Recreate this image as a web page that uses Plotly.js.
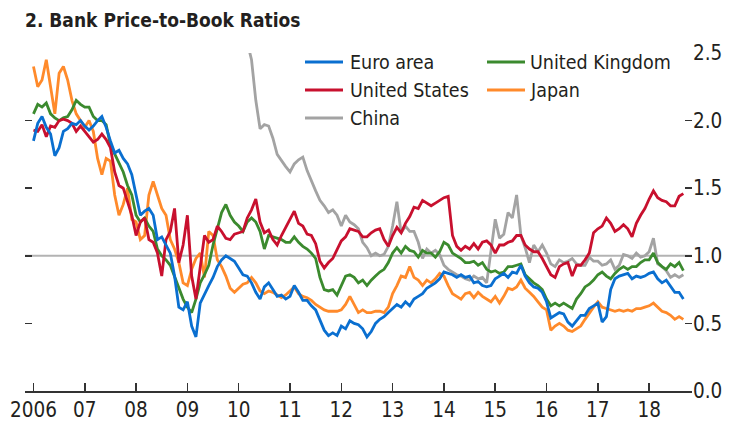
<!DOCTYPE html>
<html>
<head>
<meta charset="utf-8">
<script src="https://cdn.plot.ly/plotly-3.0.1.min.js"></script>
<style>
html,body{margin:0;padding:0;background:#fff;}
#chart{width:729px;height:435px;}
</style>
</head>
<body>
<div id="chart"></div>
<script>
// Monthly observations, starting January 2006
const START_YEAR = 2006;
const CHINA_START_MONTH = 49; // China series begins February 2010

const euroArea = [
  1.85,1.98,2.03,1.95,1.90,1.74,1.80,1.92,1.94,1.98,
  1.97,2.00,1.96,1.93,1.96,2.00,2.03,1.95,1.85,1.76,
  1.78,1.72,1.68,1.60,1.45,1.30,1.33,1.35,1.30,1.12,
  1.14,1.08,1.02,0.85,0.62,0.60,0.66,0.48,0.40,0.65,
  0.72,0.78,0.84,0.92,0.97,1.00,0.98,0.96,0.91,0.86,
  0.85,0.80,0.73,0.68,0.77,0.80,0.75,0.70,0.71,0.68,
  0.70,0.78,0.73,0.67,0.67,0.63,0.60,0.53,0.45,0.41,
  0.43,0.41,0.48,0.46,0.52,0.50,0.49,0.46,0.40,0.44,
  0.50,0.53,0.55,0.58,0.61,0.64,0.62,0.66,0.63,0.68,
  0.70,0.72,0.76,0.78,0.80,0.83,0.88,0.87,0.86,0.84,
  0.86,0.84,0.85,0.80,0.81,0.78,0.77,0.78,0.83,0.85,
  0.87,0.84,0.88,0.87,0.93,0.85,0.80,0.77,0.76,0.73,
  0.66,0.54,0.56,0.58,0.57,0.51,0.48,0.52,0.56,0.56,
  0.61,0.63,0.65,0.51,0.55,0.75,0.83,0.85,0.86,0.87,
  0.83,0.85,0.84,0.85,0.87,0.88,0.83,0.80,0.82,0.77,
  0.73,0.73,0.68
];

const unitedStates = [
  1.93,1.92,1.97,1.88,1.96,1.95,2.00,2.01,2.00,1.98,
  1.92,1.96,1.92,1.88,1.84,1.86,1.90,1.86,1.80,1.62,
  1.52,1.50,1.40,1.30,1.15,1.25,1.28,1.12,1.10,1.02,
  0.85,1.12,1.18,1.35,0.95,1.08,1.30,0.85,0.68,0.90,
  1.15,1.10,1.12,1.22,1.18,1.13,1.12,1.16,1.17,1.18,
  1.28,1.34,1.42,1.25,1.17,1.19,1.12,1.08,1.15,1.21,
  1.28,1.33,1.24,1.22,1.16,1.15,1.09,0.96,0.91,0.95,
  0.98,1.05,1.11,1.14,1.20,1.19,1.18,1.14,1.14,1.17,
  1.19,1.20,1.12,1.07,1.15,1.21,1.17,1.24,1.29,1.36,
  1.35,1.41,1.39,1.37,1.39,1.41,1.43,1.44,1.15,1.07,
  1.04,1.07,1.05,1.09,1.05,1.10,1.11,1.08,1.02,1.08,
  1.08,1.10,1.11,1.15,1.15,1.08,1.05,1.03,1.03,0.98,
  0.92,0.86,0.84,0.92,0.94,0.95,0.85,0.93,0.93,0.97,
  1.02,1.17,1.20,1.22,1.28,1.24,1.18,1.20,1.23,1.20,
  1.14,1.24,1.30,1.35,1.42,1.48,1.43,1.41,1.40,1.37,
  1.37,1.44,1.46
];

const china = [
                                                  2.62,
  2.58,2.45,2.15,1.94,1.97,1.96,1.87,1.75,1.70,1.66,
  1.62,1.68,1.71,1.73,1.63,1.55,1.48,1.41,1.37,1.32,
  1.34,1.30,1.22,1.30,1.25,1.23,1.20,1.10,1.06,1.00,
  1.02,1.00,1.01,1.07,1.22,1.40,1.17,1.22,1.18,1.18,
  1.10,0.98,1.05,1.02,1.04,1.01,0.93,0.90,0.88,0.86,
  0.85,0.83,0.82,0.85,0.83,0.84,0.80,1.05,1.27,1.13,
  1.16,1.32,1.28,1.45,1.15,1.06,0.95,1.08,1.03,1.08,
  1.02,0.94,0.92,0.97,0.95,0.96,0.98,0.94,0.93,0.93,
  0.99,0.96,0.96,0.93,0.94,0.97,0.90,0.93,1.01,1.00,
  0.98,1.02,0.99,1.00,1.03,1.13,0.94,0.92,0.89,0.84,
  0.86,0.84,0.86
];

const unitedKingdom = [
  2.05,2.12,2.10,2.13,2.05,2.02,2.00,2.02,2.03,2.08,
  2.15,2.12,2.10,2.10,2.03,2.00,2.00,1.97,1.82,1.75,
  1.68,1.62,1.52,1.45,1.30,1.25,1.28,1.22,1.18,1.05,
  1.00,0.97,0.93,0.85,0.77,0.68,0.62,0.58,0.68,0.80,
  0.86,0.93,1.08,1.20,1.32,1.38,1.30,1.25,1.22,1.18,
  1.25,1.28,1.25,1.18,1.05,1.15,1.14,1.13,1.12,1.10,
  1.10,1.14,1.10,1.07,1.05,1.02,0.98,0.84,0.75,0.74,
  0.75,0.71,0.78,0.85,0.86,0.84,0.80,0.82,0.78,0.82,
  0.85,0.88,0.90,0.95,1.02,1.06,1.02,1.07,1.04,1.03,
  0.99,1.04,1.02,1.02,0.99,1.03,1.10,1.08,1.02,1.00,
  0.98,0.95,0.95,0.96,0.93,0.95,0.90,0.88,0.89,0.87,
  0.88,0.92,0.92,0.93,0.94,0.86,0.83,0.80,0.78,0.75,
  0.68,0.63,0.65,0.63,0.65,0.63,0.61,0.68,0.72,0.77,
  0.79,0.82,0.86,0.88,0.85,0.83,0.87,0.90,0.92,0.90,
  0.92,0.92,0.95,0.97,0.97,1.02,0.95,0.92,0.90,0.94,
  0.92,0.95,0.89
];

const japan = [
  2.40,2.25,2.30,2.45,2.25,2.05,2.35,2.40,2.30,2.15,
  2.05,2.00,1.95,2.00,1.92,1.72,1.60,1.72,1.70,1.45,
  1.30,1.38,1.50,1.27,1.25,1.12,1.15,1.45,1.55,1.45,
  1.35,1.30,1.12,1.05,0.95,0.80,0.78,0.90,0.98,1.02,
  0.84,1.18,1.15,0.97,0.92,0.85,0.76,0.73,0.76,0.79,
  0.80,0.84,0.80,0.74,0.72,0.74,0.73,0.71,0.69,0.71,
  0.74,0.77,0.72,0.70,0.69,0.67,0.64,0.62,0.60,0.59,
  0.59,0.59,0.60,0.64,0.70,0.64,0.58,0.60,0.58,0.58,
  0.59,0.59,0.58,0.62,0.72,0.78,0.85,0.84,0.92,0.84,
  0.82,0.78,0.82,0.80,0.83,0.87,0.85,0.78,0.72,0.70,
  0.68,0.72,0.73,0.69,0.73,0.70,0.68,0.66,0.70,0.65,
  0.70,0.76,0.75,0.77,0.82,0.76,0.73,0.70,0.66,0.62,
  0.60,0.45,0.48,0.50,0.48,0.45,0.44,0.46,0.48,0.53,
  0.58,0.62,0.66,0.62,0.61,0.60,0.59,0.60,0.59,0.60,
  0.59,0.61,0.61,0.62,0.63,0.65,0.62,0.59,0.58,0.56,
  0.53,0.55,0.53
];

const seriesNames = ["Euro area", "United States", "China", "United Kingdom", "Japan"];
const seriesColors = ["#0a6fd0", "#c8102e", "#a3a3a3", "#3b8a2e", "#ff8a2b"];

const tickYears = [2006,2007,2008,2009,2010,2011,2012,2013,2014,2015,2016,2017,2018];
const tickLabels = ["2006","07","08","09","10","11","12","13","14","15","16","17","18"];
const yTicks = [0, 0.5, 1.0, 1.5, 2.0, 2.5];
const referenceLevel = 1.0;

const monthX = (offset) => (v, i) => START_YEAR + (offset + i) / 12;

const seriesData = {
  "Euro area": {y: euroArea, offset: 0},
  "United States": {y: unitedStates, offset: 0},
  "China": {y: china, offset: CHINA_START_MONTH},
  "United Kingdom": {y: unitedKingdom, offset: 0},
  "Japan": {y: japan, offset: 0}
};

// drawing order (bottom to top)
const drawOrder = ["China", "Japan", "United Kingdom", "United States", "Euro area"];

const FONT = '"DejaVu Sans Condensed", "Liberation Sans Narrow", "Arial Narrow", sans-serif';
const TEXT = '#231f20';

const traces = drawOrder.map(name => {
  const d = seriesData[name];
  return {
    type: 'scatter', mode: 'lines', name: name,
    x: d.y.map(monthX(d.offset)), y: d.y,
    line: {color: seriesColors[seriesNames.indexOf(name)], width: 2.8},
    showlegend: false, hoverinfo: 'x+y+name'
  };
});

// manual legend (two columns)
const legendSlots = [
  {name: "Euro area", col: 0, row: 0},
  {name: "United Kingdom", col: 1, row: 0},
  {name: "United States", col: 0, row: 1},
  {name: "Japan", col: 1, row: 1},
  {name: "China", col: 0, row: 2}
];
const W = 729, H = 435, ML = 25, MR = 37, MT = 53, MB = 44;
const PW = W - ML - MR, PH = H - MT - MB;
const px2x = (px) => (px - ML) / PW;
const py2y = (py) => (H - MB - py) / PH;
const colLine = [[305, 343], [487, 525]];
const colText = [348, 528];
const rowY = [62, 90, 118];

const shapes = [{
  type: 'line', xref: 'paper', yref: 'y', x0: 0, x1: 1, y0: referenceLevel, y1: referenceLevel,
  line: {color: '#b3b3b3', width: 2}, layer: 'below'
}];
const annotations = [];
legendSlots.forEach(s => {
  const c = seriesColors[seriesNames.indexOf(s.name)];
  shapes.push({
    type: 'line', xref: 'paper', yref: 'paper',
    x0: px2x(colLine[s.col][0]), x1: px2x(colLine[s.col][1]),
    y0: py2y(rowY[s.row]), y1: py2y(rowY[s.row]),
    line: {color: c, width: 3}
  });
  annotations.push({
    xref: 'paper', yref: 'paper', x: px2x(colText[s.col]), y: py2y(rowY[s.row]),
    xanchor: 'left', yanchor: 'middle', showarrow: false, text: s.name,
    font: {family: FONT, size: 19.5, color: TEXT}
  });
});

const layout = {
  width: W, height: H,
  margin: {l: ML, r: MR, t: MT, b: MB, pad: 0},
  paper_bgcolor: '#fff', plot_bgcolor: '#fff',
  font: {family: FONT, size: 20, color: TEXT},
  title: {
    text: '<b>2. Bank Price-to-Book Ratios</b>',
    x: 25 / W, xanchor: 'left', xref: 'container',
    y: 1 - 20 / H, yanchor: 'middle', yref: 'container',
    font: {family: FONT, size: 19, color: TEXT}
  },
  xaxis: {
    range: [2005.835, 2018.835],
    tickvals: tickYears, ticktext: tickLabels,
    ticks: 'inside', ticklen: 8, tickwidth: 1.5, tickcolor: '#333',
    showline: true, linecolor: '#333', linewidth: 1.5,
    showgrid: false, zeroline: false,
    tickfont: {family: FONT, size: 20.5, color: TEXT}
  },
  yaxis: {
    range: [0, 2.5], side: 'right',
    tickvals: yTicks, tickformat: '.1f',
    ticks: 'inside', ticklen: 7, tickwidth: 1.5, tickcolor: '#333',
    mirror: 'ticks', showline: false,
    showgrid: false, zeroline: false,
    tickfont: {family: FONT, size: 20.5, color: TEXT}
  },
  shapes: shapes,
  annotations: annotations,
  showlegend: false
};

Plotly.newPlot('chart', traces, layout, {displayModeBar: false, staticPlot: true});
</script>
</body>
</html>
